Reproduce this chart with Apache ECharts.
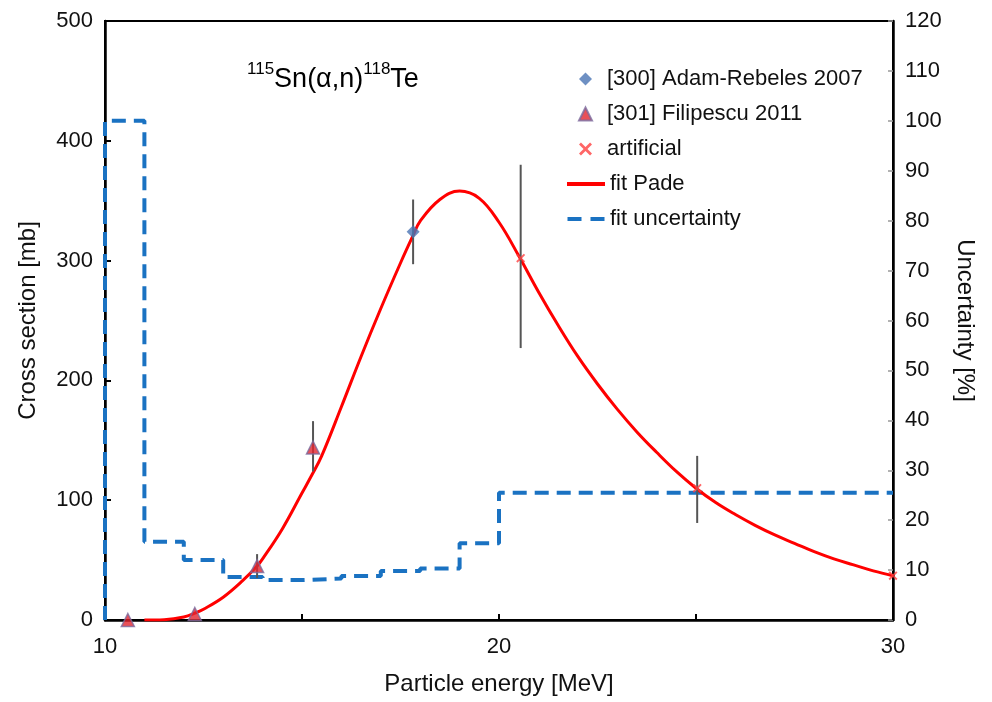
<!DOCTYPE html>
<html>
<head>
<meta charset="utf-8">
<script src="https://cdn.jsdelivr.net/npm/echarts@6/dist/echarts.min.js"></script>
<style>html,body{margin:0;padding:0;background:#fff}#c{width:992px;height:702px}</style>
</head>
<body>
<div id="c"></div>
<script>
// ---- data ----
const adamRebeles = [[17.82, 324]];
const adamRebelesErr = [[17.82, 297, 351]];
const filipescu = [[10.58, 0], [12.28, 5], [13.86, 45], [15.28, 144]];
const filipescuErr = [[13.86, 35, 55], [15.28, 124, 166]];
const artificial = [[20.55, 302], [25.03, 110], [30.0, 37]];
const artificialErr = [[20.55, 227, 380], [25.03, 81, 137]];
const fitEnergy = [11.0, 11.5, 12.0, 12.3, 12.5, 13.0, 13.5, 13.86, 14.0, 14.5, 15.0, 15.25, 15.5, 16.0, 16.5, 17.0, 17.5, 17.82, 18.0, 18.5, 19.0, 19.5, 20.0, 20.5, 21.0, 21.5, 22.0, 22.5, 23.0, 23.5, 24.0, 24.5, 25.0, 25.5, 26.0, 26.5, 27.0, 27.5, 28.0, 28.5, 29.0, 29.5, 30.0];
const fitPade = [0, 0.3, 2.5, 6, 9, 19, 33, 45, 51, 76, 106, 121, 137, 178, 220, 260, 298, 321, 333, 351, 358, 352, 332, 304, 274, 246, 220, 197, 176, 157, 140, 124, 110, 98, 88, 79, 71, 64, 57, 51, 46, 41, 37];
const uncEdges = [10, 11, 12, 13, 14, 15, 16, 17, 18, 19, 20, 30];
const uncValues = [100, 15.7, 12, 8.6, 8.0, 8.3, 8.8, 9.8, 10.3, 15.4, 25.5];
const xTicks = [10, 20, 30];
const leftTicks = [0, 100, 200, 300, 400, 500];

// ---- build series data ----
const fitData = fitEnergy.map((e, i) => [e, fitPade[i]]);
const uncData = [[uncEdges[0], 0]];
uncValues.forEach((v, i) => uncData.push([uncEdges[i], v]));
uncData.push([uncEdges[uncEdges.length - 1], uncValues[uncValues.length - 1]]);
const allErr = adamRebelesErr.concat(filipescuErr, artificialErr);

const FONT = 'Liberation Sans, Arial, sans-serif';
const xMark = 'path://M0,1.5L1.5,0L5,3.5L8.5,0L10,1.5L6.5,5L10,8.5L8.5,10L5,6.5L1.5,10L0,8.5L3.5,5Z';
const BLUE = '#1a72c2';
const RED = '#ff0000';

const chart = echarts.init(document.getElementById('c'), null, {renderer: 'canvas'});
chart.setOption({
  animation: false,
  backgroundColor: '#fff',
  textStyle: {fontFamily: FONT},
  title: {
    left: 242, top: 56,
    text: '{sup|115}{main|Sn(α,n)}{sup|118}{main|Te}',
    textStyle: {
      fontWeight: 'normal',
      rich: {
        sup: {fontSize: 17, fontFamily: FONT, fontWeight: 'normal', color: '#000', verticalAlign: 'top', lineHeight: 32},
        main: {fontSize: 27, fontFamily: FONT, fontWeight: 'normal', color: '#000', lineHeight: 32, verticalAlign: 'bottom'}
      }
    }
  },
  legend: [{
    orient: 'vertical', left: 573, top: 62,
    itemWidth: 13, itemHeight: 13, itemGap: 11,
    textStyle: {fontSize: 22, fontFamily: FONT, color: '#111', lineHeight: 24, padding: [0, 0, 0, 10]},
    data: [
      {name: '[300] Adam-Rebeles 2007', icon: 'diamond'},
      {name: '[301] Filipescu 2011', icon: 'triangle'},
      {name: 'artificial', icon: xMark}
    ]
  }, {
    orient: 'vertical', left: 562, top: 167,
    itemWidth: 38, itemHeight: 4, itemGap: 11,
    textStyle: {fontSize: 22, fontFamily: FONT, color: '#111', lineHeight: 24},
    data: [
      {name: 'fit Pade', icon: 'path://M0,0H38V4H0Z', itemStyle: {color: RED}},
      {name: 'fit uncertainty', icon: 'path://M0,0H14V4H0ZM23,0H37V4H23Z', itemStyle: {color: BLUE}}
    ]
  }],
  grid: {left: 105, right: 99, top: 21, bottom: 82, show: true, borderColor: '#000', borderWidth: 2, backgroundColor: 'transparent'},
  xAxis: {
    type: 'value', min: 10, max: 30, interval: 5,
    name: 'Particle energy [MeV]', nameLocation: 'middle', nameGap: 52,
    nameTextStyle: {fontSize: 24, fontFamily: FONT, color: '#111'},
    axisLine: {lineStyle: {color: '#000', width: 2.5}},
    axisTick: {inside: true, length: 6, lineStyle: {color: '#000', width: 2}},
    axisLabel: {fontSize: 22, fontFamily: FONT, color: '#111', margin: 16,
      formatter: v => (xTicks.indexOf(v) >= 0 ? String(v) : '')},
    splitLine: {show: false}
  },
  yAxis: [{
    type: 'value', min: 0, max: 500, interval: 100, position: 'left',
    name: 'Cross section [mb]', nameLocation: 'middle', nameGap: 65, nameRotate: 90,
    nameTextStyle: {fontSize: 24, fontFamily: FONT, color: '#111'},
    axisLine: {show: true, lineStyle: {color: '#000', width: 2.5}},
    axisTick: {inside: true, length: 6, lineStyle: {color: '#000', width: 2}},
    axisLabel: {fontSize: 22, fontFamily: FONT, color: '#111', margin: 12,
      formatter: v => (leftTicks.indexOf(v) >= 0 ? String(v) : '')},
    splitLine: {show: false}
  }, {
    type: 'value', min: 0, max: 120, interval: 10, position: 'right',
    name: 'Uncertainty [%]', nameLocation: 'middle', nameGap: 60, nameRotate: -90,
    nameTextStyle: {fontSize: 24, fontFamily: FONT, color: '#111'},
    axisLine: {show: true, lineStyle: {color: '#000', width: 2.5}},
    axisTick: {inside: true, length: 5, lineStyle: {color: '#999', width: 1.5}},
    axisLabel: {fontSize: 22, fontFamily: FONT, color: '#111', margin: 12},
    splitLine: {show: false}
  }],
  series: [
    {
      name: 'fit uncertainty', type: 'line', yAxisIndex: 1, step: 'end',
      data: uncData, symbol: 'none', z: 2,
      lineStyle: {color: BLUE, width: 4, type: [14, 8]},
      itemStyle: {color: BLUE}
    },
    {
      name: 'fit Pade', type: 'line', yAxisIndex: 0, smooth: 0.4,
      data: fitData, symbol: 'none', z: 3,
      lineStyle: {color: RED, width: 3},
      itemStyle: {color: RED}
    },
    {
      name: 'errorbars', type: 'custom', yAxisIndex: 0, z: 4,
      data: allErr,
      renderItem: function (params, api) {
        const lo = api.coord([api.value(0), api.value(1)]);
        const hi = api.coord([api.value(0), api.value(2)]);
        return {type: 'line', shape: {x1: lo[0], y1: lo[1], x2: hi[0], y2: hi[1]},
          style: {stroke: '#555', lineWidth: 2}};
      },
      encode: {x: 0, y: [1, 2]},
      silent: true
    },
    {
      name: '[300] Adam-Rebeles 2007', type: 'scatter', yAxisIndex: 0, z: 5,
      data: adamRebeles, symbol: 'diamond', symbolSize: 13,
      itemStyle: {color: '#4a74b4'}
    },
    {
      name: '[301] Filipescu 2011', type: 'scatter', yAxisIndex: 0, z: 5,
      data: filipescu, symbol: 'triangle', symbolSize: 13,
      itemStyle: {color: '#e2242e', borderColor: '#7b6a9e', borderWidth: 1.5}
    },
    {
      name: 'artificial', type: 'scatter', yAxisIndex: 0, z: 5,
      data: artificial, symbol: xMark, symbolSize: 9,
      itemStyle: {color: '#ff4040'}
    }
  ]
});
</script>
</body>
</html>
